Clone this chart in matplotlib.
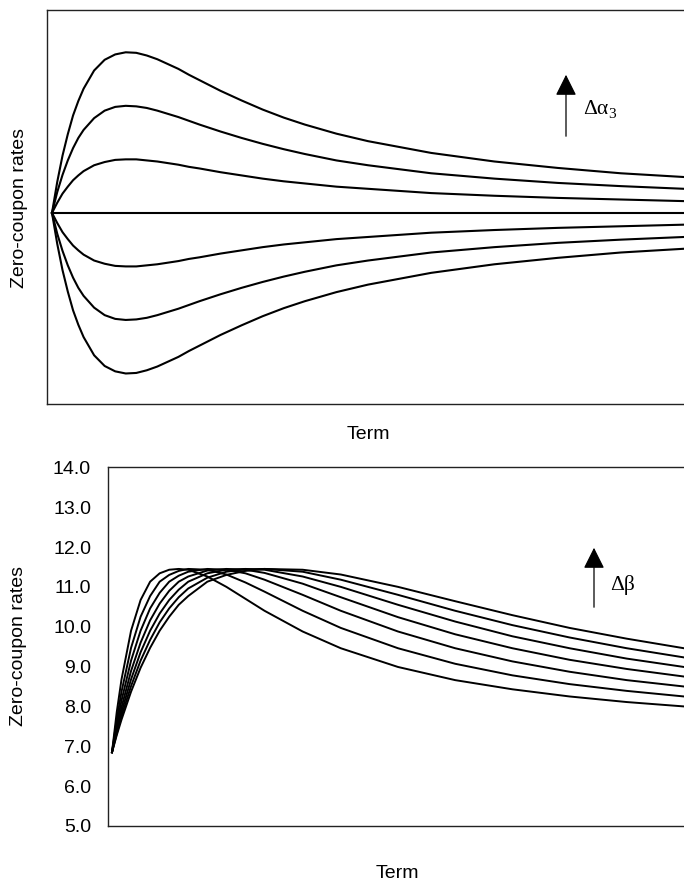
import matplotlib.pyplot as plt
from matplotlib.patches import FancyArrowPatch

plt.rcParams['font.family'] = ['Liberation Sans', 'DejaVu Sans']

# term grid for the top panel
top_term = [0, 0.25, 0.5, 0.75, 1, 1.25, 1.5, 2, 2.5, 3, 3.5, 4, 4.5, 5, 5.5, 6, 6.5, 7, 8, 9, 10, 11,
            12, 13.5, 15, 18, 21, 24, 27, 30]

# top panel: shifts in alpha3 (arbitrary units)
up1 = [0, 0.19, 0.36, 0.49, 0.61, 0.70, 0.78, 0.89, 0.95, 0.99, 1.00, 1.00, 0.98, 0.96, 0.93, 0.90,
       0.86, 0.83, 0.76, 0.70, 0.64, 0.59, 0.55, 0.49, 0.45, 0.37, 0.32, 0.28, 0.25, 0.22]
up2 = [0, 0.39, 0.71, 0.98, 1.21, 1.40, 1.55, 1.77, 1.91, 1.98, 2.00, 1.99, 1.96, 1.91, 1.85, 1.79,
       1.72, 1.65, 1.52, 1.40, 1.29, 1.19, 1.10, 0.98, 0.89, 0.74, 0.64, 0.56, 0.50, 0.45]
up3 = [0, 0.58, 1.07, 1.47, 1.82, 2.09, 2.32, 2.66, 2.86, 2.96, 3.00, 2.99, 2.94, 2.87, 2.78, 2.69,
       2.58, 2.48, 2.28, 2.10, 1.93, 1.78, 1.65, 1.48, 1.34, 1.12, 0.96, 0.84, 0.74, 0.67]
flat = [0] * len(top_term)
dn1 = [-v for v in up1]
dn2 = [-v for v in up2]
dn3 = [-v for v in up3]

# term grid for the bottom panel
term = [0, 0.25, 0.5, 1, 1.5, 2, 2.5, 3, 3.5, 4, 5, 6, 7, 8, 10, 12, 15, 18, 21, 24, 27, 30]

# bottom panel: zero-coupon rates for increasing beta
beta1 = [6.85, 7.86, 8.68, 9.90, 10.67, 11.13, 11.34, 11.43, 11.45, 11.43, 11.26, 11.00, 10.70, 10.40, 9.88, 9.46, 8.99, 8.66, 8.43, 8.25, 8.11, 8.00]
beta2 = [6.85, 7.67, 8.37, 9.47, 10.25, 10.77, 11.13, 11.30, 11.40, 11.45, 11.43, 11.31, 11.11, 10.88, 10.40, 9.97, 9.46, 9.07, 8.78, 8.56, 8.39, 8.25]
beta3 = [6.85, 7.54, 8.15, 9.15, 9.90, 10.46, 10.85, 11.13, 11.28, 11.38, 11.45, 11.43, 11.34, 11.18, 10.80, 10.40, 9.88, 9.46, 9.13, 8.87, 8.66, 8.50]
beta4 = [6.85, 7.45, 7.98, 8.89, 9.60, 10.16, 10.58, 10.90, 11.13, 11.26, 11.41, 11.45, 11.43, 11.35, 11.08, 10.74, 10.24, 9.81, 9.46, 9.17, 8.94, 8.75]
beta5 = [6.85, 7.38, 7.86, 8.68, 9.36, 9.90, 10.33, 10.67, 10.93, 11.13, 11.34, 11.43, 11.45, 11.43, 11.26, 11.00, 10.55, 10.13, 9.76, 9.46, 9.20, 8.99]
beta6 = [6.85, 7.32, 7.76, 8.51, 9.15, 9.67, 10.11, 10.46, 10.74, 10.96, 11.23, 11.38, 11.44, 11.45, 11.38, 11.18, 10.80, 10.40, 10.04, 9.73, 9.46, 9.23]
beta7 = [6.85, 7.28, 7.67, 8.37, 8.97, 9.47, 9.90, 10.25, 10.55, 10.77, 11.13, 11.30, 11.40, 11.45, 11.43, 11.31, 11.00, 10.64, 10.29, 9.97, 9.70, 9.46]

rate_ticks = [5.0, 6.0, 7.0, 8.0, 9.0, 10.0, 11.0, 12.0, 13.0, 14.0]

W, H = 684, 881
fig = plt.figure(figsize=(W / 100, H / 100), dpi=100)


def box(x0, y0, x1, y1):
    # pixel box (top-left origin) -> figure fraction rect
    return [x0 / W, 1 - y1 / H, (x1 - x0) / W, (y1 - y0) / H]


def pix(x, y):
    return (x / W, 1 - y / H)


def arrow(x, y_tip, y_tail):
    fig.add_artist(FancyArrowPatch(
        pix(x, y_tail), pix(x, y_tip), transform=fig.transFigure,
        arrowstyle='-|>,head_width=0.45,head_length=0.9',
        mutation_scale=14.4, lw=0.9, color='black'))


serif = ['Liberation Serif', 'DejaVu Serif']

# ---- top panel
ax1 = fig.add_axes(box(47, 10, 684 + 0.5 * 21.07, 404))
for c in [up3, up2, up1, flat, dn1, dn2, dn3]:
    ax1.plot(top_term, c, color='black', lw=1.5)
ax1.set_xlim(-0.237, 30.5)
ax1.set_ylim(-3.57, 3.79)
ax1.set_xticks([])
ax1.set_yticks([])
for s in ax1.spines.values():
    s.set_linewidth(1.0)
    s.set_color('#222222')

arrow(566, 72, 139)
fig.text(*pix(583, 110), '\u0394\u03b1', fontsize=15.5, va='center', ha='left', family=serif)
fig.text(*pix(608, 114), '3', fontsize=11, va='center', ha='left', family=serif)

fig.text(*pix(368, 434), 'Term', fontsize=14, ha='center', va='center')
fig.text(*pix(20, 208), 'Zero-coupon rates', fontsize=14, ha='center', va='center', rotation=90)

# ---- bottom panel
ax2 = fig.add_axes(box(107.7, 467.3, 684 + 0.5 * 19.07, 826))
for c in [beta1, beta2, beta3, beta4, beta5, beta6, beta7]:
    ax2.plot(term, c, color='black', lw=1.4)
ax2.set_xlim(-0.225, 30.5)
ax2.set_ylim(5, 14)
ax2.set_xticks([])
ax2.set_yticks(rate_ticks)
ax2.set_yticklabels(['%.1f' % v for v in rate_ticks])
ax2.tick_params(axis='y', length=0, pad=12, labelsize=14)
for s in ax2.spines.values():
    s.set_linewidth(1.0)
    s.set_color('#222222')

arrow(594, 545, 610)
fig.text(*pix(610, 585), '\u0394\u03b2', fontsize=15.5, va='center', ha='left', family=serif)

fig.text(*pix(397, 873), 'Term', fontsize=14, ha='center', va='center')
fig.text(*pix(19, 646), 'Zero-coupon rates', fontsize=14, ha='center', va='center', rotation=90)

fig.savefig('out.png', dpi=100)
plt.close()
